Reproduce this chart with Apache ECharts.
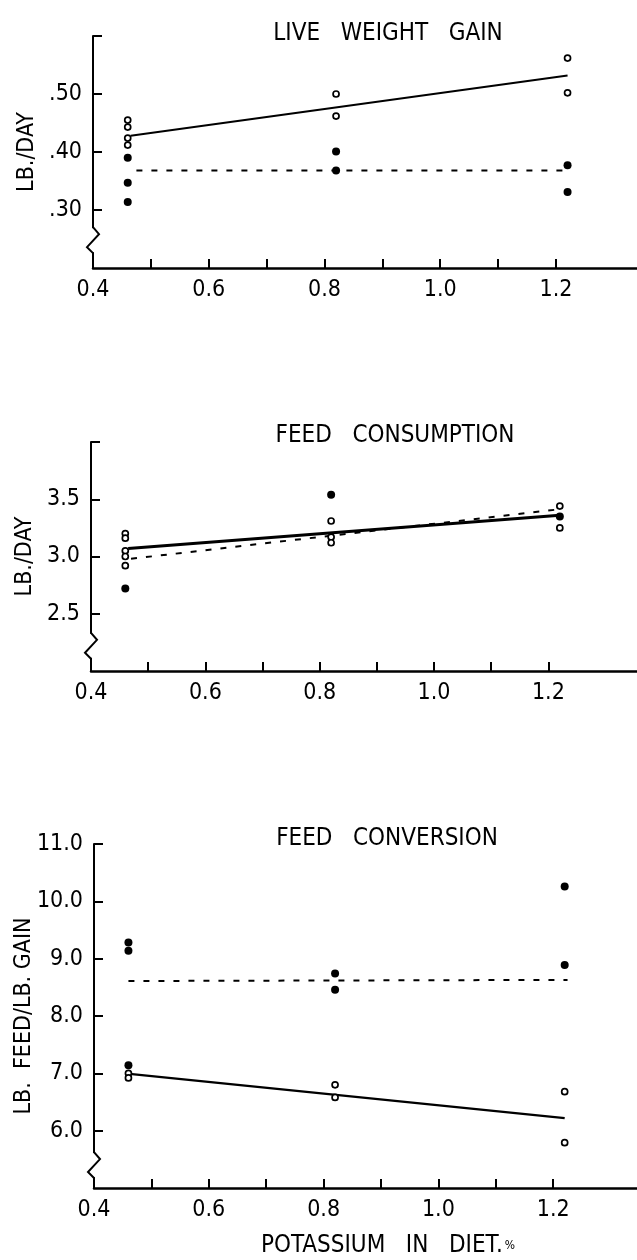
<!DOCTYPE html>
<html><head><meta charset="utf-8">
<script src="https://cdn.jsdelivr.net/npm/echarts@6/dist/echarts.min.js"></script>
<style>html,body{margin:0;padding:0;background:#fff}#c{width:637px;height:1260px}</style>
</head><body><div id="c"></div>
<script>
// ---- data ----
const xLabelValues = [0.4, 0.6, 0.8, 1.0, 1.2];
const xTickValues = [0.5, 0.6, 0.7, 0.8, 0.9, 1.0, 1.1, 1.2];

// Panel 1: live weight gain (lb/day)
const lwgLabels = [0.3, 0.4, 0.5];
const lwgTicks = [0.3, 0.4, 0.5, 0.6];
const lwgOpen = [[0.46,0.455],[0.46,0.443],[0.46,0.424],[0.46,0.412],[0.82,0.500],[0.82,0.462],[1.22,0.562],[1.22,0.502]];
const lwgFilled = [[0.46,0.390],[0.46,0.347],[0.46,0.314],[0.82,0.401],[0.82,0.368],[1.22,0.377],[1.22,0.331]];
const lwgSolid = [[0.465,0.428],[1.22,0.532]];
const lwgDashed = [[0.475,0.368],[1.215,0.368]];

// Panel 2: feed consumption (lb/day)
const fcLabels = [2.5, 3.0, 3.5];
const fcTicks = [2.5, 3.0, 3.5, 4.0];
const fcOpen = [[0.46,3.20],[0.46,3.16],[0.46,3.05],[0.46,3.00],[0.46,2.92],[0.82,3.31],[0.82,3.17],[0.82,3.12],[1.22,3.44],[1.22,3.25]];
const fcFilled = [[0.46,2.72],[0.82,3.54],[1.22,3.35]];
const fcSolid = [[0.465,3.07],[1.22,3.36]];
const fcDashed = [[0.47,2.98],[1.215,3.41]];

// Panel 3: feed conversion (lb feed / lb gain)
const fcvLabels = [6, 7, 8, 9, 10, 11];
const fcvTicks = [6, 7, 8, 9, 10, 11];
const fcvOpen = [[0.46,7.00],[0.46,6.92],[0.82,6.80],[0.82,6.58],[1.22,6.68],[1.22,5.79]];
const fcvFilled = [[0.46,9.28],[0.46,9.14],[0.46,7.14],[0.82,8.74],[0.82,8.46],[1.22,10.26],[1.22,8.89]];
const fcvSolid = [[0.462,6.99],[1.22,6.22]];
const fcvDashed = [[0.46,8.61],[1.225,8.63]];

const titles = ['LIVE   WEIGHT   GAIN', 'FEED   CONSUMPTION', 'FEED   CONVERSION'];
const yNames = ['LB./DAY', 'LB./DAY', 'LB.  FEED/LB. GAIN'];
const xName = 'POTASSIUM   IN   DIET.';
const breakValues = [0.248, 2.22, 5.4];

// ---- styling ----
const FONT = '"Liberation Sans Narrow", "DejaVu Sans Condensed", "Roboto Condensed", sans-serif';
const ink = '#000';

const panels = [
  {grid:{left:93, top:36, width:544, height:232}, xmax:1.34, ymin:0.2, ymax:0.6,
   ylab:lwgLabels, ytick:lwgTicks, fmt:v=>v.toFixed(2).replace(/^0/,''), nameGap:54,
   open:lwgOpen, filled:lwgFilled, solid:lwgSolid, dashed:lwgDashed, solidW:2},
  {grid:{left:91, top:442, width:546, height:229}, xmax:1.355, ymin:2.0, ymax:4.0,
   ylab:fcLabels, ytick:fcTicks, fmt:v=>v.toFixed(1), nameGap:54,
   open:fcOpen, filled:fcFilled, solid:fcSolid, dashed:fcDashed, solidW:3},
  {grid:{left:94, top:844, width:543, height:344}, xmax:1.346, ymin:5, ymax:11,
   ylab:fcvLabels, ytick:fcvTicks, fmt:v=>v.toFixed(1), nameGap:58,
   open:fcvOpen, filled:fcvFilled, solid:fcvSolid, dashed:fcvDashed, solidW:2.2}
];

const grid = [], xAxis = [], yAxis = [], series = [];
panels.forEach((p, i) => {
  grid.push(Object.assign({containLabel:false, outerBoundsMode:'none'}, p.grid));
  xAxis.push({
    type:'value', gridIndex:i, min:0.4, max:p.xmax,
    axisLine:{show:true, onZero:false, lineStyle:{color:ink, width:2.5}},
    axisTick:{show:true, inside:true, length:9, customValues:xTickValues, lineStyle:{color:ink, width:2}},
    axisLabel:{show:true, customValues:xLabelValues, formatter:v=>v.toFixed(1), color:ink,
      fontFamily:FONT, fontSize:23, margin:11},
    splitLine:{show:false}
  });
  yAxis.push({
    type:'value', gridIndex:i, min:p.ymin, max:p.ymax,
    name:yNames[i], nameLocation:'middle', nameRotate:90, nameGap:p.nameGap, nameMoveOverlap:false,
    nameTextStyle:{color:ink, fontFamily:FONT, fontSize:23},
    axisLine:{show:true, onZero:false, lineStyle:{color:ink, width:2}},
    axisTick:{show:true, inside:true, length:9, customValues:p.ytick, lineStyle:{color:ink, width:2}},
    axisLabel:{show:true, customValues:p.ylab, formatter:p.fmt, color:ink,
      fontFamily:FONT, fontSize:23, margin:11},
    splitLine:{show:false}
  });
  series.push({type:'line', xAxisIndex:i, yAxisIndex:i, data:p.solid, symbol:'none',
    lineStyle:{color:ink, width:p.solidW}, z:3, silent:true});
  series.push({type:'line', xAxisIndex:i, yAxisIndex:i, data:p.dashed, symbol:'none',
    lineStyle:{color:ink, width:2, type:[6,9]}, z:3, silent:true});
  series.push({type:'scatter', xAxisIndex:i, yAxisIndex:i, data:p.filled, symbol:'circle',
    symbolSize:8, itemStyle:{color:ink, opacity:1}, z:4});
  series.push({type:'scatter', xAxisIndex:i, yAxisIndex:i, data:p.open, symbol:'circle',
    symbolSize:6, itemStyle:{color:'#fff', borderColor:ink, borderWidth:1.7, opacity:1}, z:5});
});

const titleStyle = {color:ink, fontFamily:FONT, fontSize:24, fontWeight:'normal'};
const option = {
  backgroundColor:'#fff',
  animation:false,
  title:[
    {text:titles[0], left:383, top:17, textAlign:'center', textStyle:titleStyle},
    {text:titles[1], left:390, top:419, textAlign:'center', textStyle:titleStyle},
    {text:titles[2], left:382, top:822, textAlign:'center', textStyle:titleStyle},
    {text:xName + '{p|%}', left:383, top:1229, textAlign:'center',
      textStyle:Object.assign({}, titleStyle, {rich:{p:{fontSize:12, fontFamily:FONT, color:ink, padding:[0,0,0,2]}}})}
  ],
  grid, xAxis, yAxis, series
};

const chart = echarts.init(document.getElementById('c'), null, {renderer:'canvas'});
chart.setOption(option);

// axis-break zigzags on each y axis
const graphics = [];
panels.forEach((p, i) => {
  const pt = chart.convertToPixel({xAxisIndex:i, yAxisIndex:i}, [0.4, breakValues[i]]);
  const x = pt[0], y = pt[1];
  graphics.push({type:'rect', shape:{x:x-4, y:y-12, width:8, height:24}, style:{fill:'#fff'}, z:100});
  graphics.push({type:'polyline', shape:{points:[[x,y-13],[x+6,y-6],[x-6,y+7],[x,y+13]]},
    style:{stroke:ink, lineWidth:2, fill:null}, z:101});
});
chart.setOption({graphic:graphics});
</script>
</body></html>
